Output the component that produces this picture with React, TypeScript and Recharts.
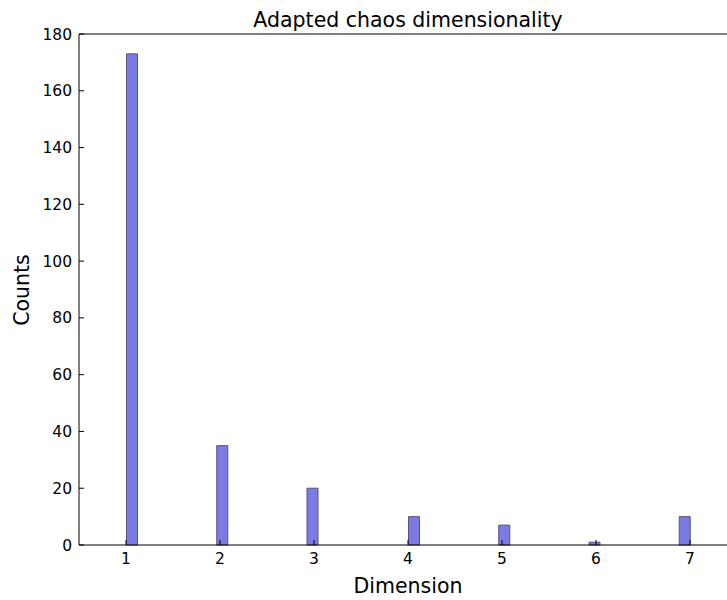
import React from "react";
import { BarChart, Bar, XAxis, YAxis } from "recharts";

// histogram bins (centres of the bins that hold each dimension) and counts
const binCenters = [1.06, 2.02, 2.98, 4.06, 5.02, 5.98, 6.94];
const counts = [173, 35, 20, 10, 7, 1, 10];
const xTicks = [1, 2, 3, 4, 5, 6, 7];
const yTicks = [0, 20, 40, 60, 80, 100, 120, 140, 160, 180];

const data = binCenters.map((x, i) => ({ x, count: counts[i] }));

const font = "'DejaVu Sans', sans-serif";
const tickStyle = { fontSize: 15.5, fill: "#000", fontFamily: font };

const App: React.FC = () => {
  return (
    <div style={{ position: "absolute", left: 0, top: 0, width: 727, height: 600, overflow: "hidden", background: "#fff" }}>
      <BarChart width={745} height={600} data={data} margin={{ top: 0, right: 8, bottom: 0, left: 0 }}>
        <XAxis
          xAxisId="top"
          orientation="top"
          type="number"
          dataKey="x"
          domain={[0.5, 7.5]}
          allowDataOverflow
          ticks={xTicks}
          height={34}
          tick={false}
          tickSize={-5}
          stroke="#000"
          axisLine={{ stroke: "#000" }}
          tickLine={{ stroke: "#000" }}
        />
        <XAxis
          type="number"
          dataKey="x"
          domain={[0.5, 7.5]}
          allowDataOverflow
          ticks={xTicks}
          height={55}
          tickSize={-5}
          tickMargin={13}
          tick={tickStyle}
          axisLine={{ stroke: "#000" }}
          tickLine={{ stroke: "#000" }}
        />
        <YAxis
          type="number"
          domain={[0, 180]}
          ticks={yTicks}
          width={79}
          tickSize={-5}
          tickMargin={12}
          tick={tickStyle}
          axisLine={{ stroke: "#000" }}
          tickLine={{ stroke: "#000" }}
        />
        <Bar
          dataKey="count"
          barSize={11}
          fill="#7b7be6"
          stroke="#55557f"
          strokeWidth={1}
          isAnimationActive={false}
        />
        <text x={408} y={27} textAnchor="middle" fontSize={20.5} fontFamily={font} fill="#000">
          Adapted chaos dimensionality
        </text>
        <text x={408} y={593} textAnchor="middle" fontSize={20.5} fontFamily={font} fill="#000">
          Dimension
        </text>
        <text
          x={29}
          y={290}
          textAnchor="middle"
          fontSize={20.5}
          fontFamily={font}
          fill="#000"
          transform="rotate(-90 29 290)"
        >
          Counts
        </text>
      </BarChart>
    </div>
  );
};

export default App;
